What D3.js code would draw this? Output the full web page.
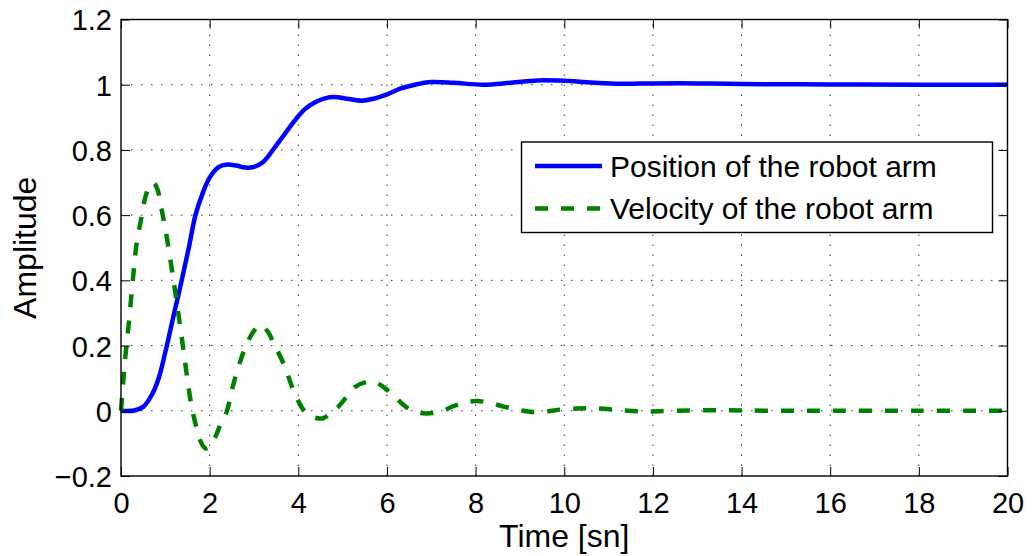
<!DOCTYPE html>
<html>
<head>
<meta charset="utf-8">
<script src="https://cdn.jsdelivr.net/npm/d3@7"></script>
<style>
  html, body { margin: 0; padding: 0; background: #fff; }
  svg { display: block; font-family: "Liberation Sans", Arial, Helvetica, sans-serif; }
</style>
</head>
<body>
<svg id="chart" width="1034" height="556"></svg>
<script>
// ---- Data ----
const posTime = [0, 0.3, 0.5, 0.7, 0.85, 1.0, 1.2, 1.37, 1.53, 1.68, 1.85, 2.0, 2.2, 2.4, 2.6, 2.8, 3.0, 3.2, 3.47, 3.7, 3.92, 4.15, 4.38, 4.6, 4.8, 5.1, 5.43, 5.7, 6.02, 6.3, 6.63, 7.0, 7.5, 8.17, 8.8, 9.4, 10.0, 10.6, 11.3, 12, 13, 14, 16, 18, 20];
const posValue = [0, 0.001, 0.012, 0.05, 0.1, 0.18, 0.3, 0.4, 0.5, 0.6, 0.67, 0.715, 0.747, 0.755, 0.752, 0.746, 0.748, 0.762, 0.808, 0.85, 0.89, 0.925, 0.946, 0.958, 0.962, 0.957, 0.951, 0.957, 0.971, 0.988, 1.0, 1.008, 1.006, 1.0, 1.006, 1.013, 1.012, 1.007, 1.003, 1.004, 1.004, 1.002, 1.001, 1.0, 1.0];

const velTime = [0, 0.05, 0.1, 0.17, 0.28, 0.35, 0.47, 0.55, 0.65, 0.73, 0.82, 0.92, 1.03, 1.14, 1.25, 1.37, 1.48, 1.59, 1.7, 1.8, 1.9, 2.0, 2.13, 2.25, 2.38, 2.5, 2.65, 2.84, 3.0, 3.14, 3.3, 3.47, 3.7, 3.89, 4.15, 4.35, 4.56, 4.75, 4.9, 5.1, 5.28, 5.5, 5.69, 5.9, 6.14, 6.4, 6.63, 6.89, 7.2, 7.5, 7.75, 8.02, 8.3, 8.66, 9.0, 9.3, 9.6, 9.94, 10.3, 10.6, 10.9, 11.26, 11.82, 12.5, 13.3, 14, 15, 16, 18, 20];
const velValue = [0, 0.09, 0.17, 0.26, 0.42, 0.51, 0.60, 0.655, 0.69, 0.70, 0.68, 0.615, 0.535, 0.44, 0.34, 0.225, 0.115, 0.015, -0.05, -0.095, -0.115, -0.11, -0.08, -0.04, -0.005, 0.063, 0.135, 0.206, 0.245, 0.263, 0.245, 0.2, 0.135, 0.063, -0.003, -0.02, -0.023, -0.005, 0.012, 0.045, 0.073, 0.087, 0.09, 0.075, 0.048, 0.015, -0.003, -0.008, -0.003, 0.014, 0.025, 0.03, 0.025, 0.012, 0.002, -0.004, -0.002, 0.004, 0.007, 0.008, 0.006, 0.002, -0.002, 0.0, 0.002, 0.001, 0.0, 0.0, 0.0, 0.0];

const xTicks = [0, 2, 4, 6, 8, 10, 12, 14, 16, 18, 20];
const yTicks = [-0.2, 0, 0.2, 0.4, 0.6, 0.8, 1.0, 1.2];
const yTickLabels = ["\u22120.2", "0", "0.2", "0.4", "0.6", "0.8", "1", "1.2"];
const seriesNames = ["Position of the robot arm", "Velocity of the robot arm"];
const xLabel = "Time [sn]";
const yLabel = "Amplitude";

// ---- Layout ----
const L = 121, R = 1007.5, T = 19.5, B = 476;
const svg = d3.select("#chart");
const x = d3.scaleLinear().domain([0, 20]).range([L, R]);
const y = d3.scaleLinear().domain([-0.2, 1.2]).range([B, T]);

// grid
const grid = svg.append("g").attr("stroke", "#333").attr("stroke-width", 1).attr("stroke-dasharray", "1.5,8.5");
xTicks.slice(1, -1).forEach(t => {
  grid.append("line").attr("x1", x(t)).attr("x2", x(t)).attr("y1", B).attr("y2", T);
});
yTicks.slice(1, -1).forEach(t => {
  grid.append("line").attr("y1", y(t)).attr("y2", y(t)).attr("x1", L).attr("x2", R);
});

// lines
const posData = posTime.map((t, i) => [t, posValue[i]]);
const velData = velTime.map((t, i) => [t, velValue[i]]);
const line = d3.line().x(d => x(d[0])).y(d => y(d[1])).curve(d3.curveCatmullRom.alpha(0.5));

svg.append("path").datum(posData).attr("d", line)
  .attr("fill", "none").attr("stroke", "#0000ff").attr("stroke-width", 4.5).attr("stroke-linejoin", "round");
svg.append("path").datum(velData).attr("d", line)
  .attr("fill", "none").attr("stroke", "#008000").attr("stroke-width", 4.5)
  .attr("stroke-dasharray", "13,13").attr("stroke-linecap", "butt");

// axes (box with inward ticks on all sides)
const tickLen = 9;
const axBottom = d3.axisBottom(x).tickValues(xTicks).tickSizeInner(-tickLen).tickSizeOuter(0).tickPadding(20).tickFormat(d3.format("d"));
const axTop = d3.axisTop(x).tickValues(xTicks).tickSizeInner(-tickLen).tickSizeOuter(0).tickFormat("");
const axLeft = d3.axisLeft(y).tickValues(yTicks).tickSizeInner(-tickLen).tickSizeOuter(0).tickPadding(18).tickFormat((d, i) => yTickLabels[i]);
const axRight = d3.axisRight(y).tickValues(yTicks).tickSizeInner(-tickLen).tickSizeOuter(0).tickFormat("");

function styleAxis(g) {
  g.select(".domain").remove();
  g.selectAll(".tick line").attr("stroke", "#000").attr("stroke-width", 1);
  g.selectAll(".tick text").attr("fill", "#000").style("font-size", "29px");
}
svg.append("g").attr("transform", `translate(0,${B})`).call(axBottom).call(styleAxis)
  .selectAll(".tick text").attr("dy", null).attr("y", 37);
svg.append("g").attr("transform", `translate(0,${T})`).call(axTop).call(styleAxis);
svg.append("g").attr("transform", `translate(${L},0)`).call(axLeft).call(styleAxis)
  .selectAll(".tick text").attr("dy", "0.36em").attr("x", -9);
svg.append("g").attr("transform", `translate(${R},0)`).call(axRight).call(styleAxis);

svg.append("rect").attr("x", L).attr("y", T).attr("width", R - L).attr("height", B - T)
  .attr("fill", "none").attr("stroke", "#000").attr("stroke-width", 1.4);

// axis labels
svg.append("text").attr("x", (L + R) / 2).attr("y", 547).attr("text-anchor", "middle")
  .style("font-size", "32px").attr("fill", "#000").text(xLabel);
svg.append("text").attr("transform", `translate(36,${(T + B) / 2}) rotate(-90)`).attr("text-anchor", "middle")
  .style("font-size", "32px").attr("fill", "#000").text(yLabel);

// legend
const lg = svg.append("g");
lg.append("rect").attr("x", 521.5).attr("y", 142).attr("width", 471).attr("height", 90.5)
  .attr("fill", "#fff").attr("stroke", "#000").attr("stroke-width", 1.4);
const legY = [166, 208.5];
const legColors = ["#0000ff", "#008000"];
const legDash = [null, "13,13"];
seriesNames.forEach((name, i) => {
  lg.append("line").attr("x1", 535).attr("x2", 602).attr("y1", legY[i]).attr("y2", legY[i])
    .attr("stroke", legColors[i]).attr("stroke-width", 4.5).attr("stroke-dasharray", legDash[i]);
  lg.append("text").attr("x", 610).attr("y", legY[i] + 10.8).style("font-size", "30px").attr("fill", "#000").text(name);
});
</script>
</body>
</html>
